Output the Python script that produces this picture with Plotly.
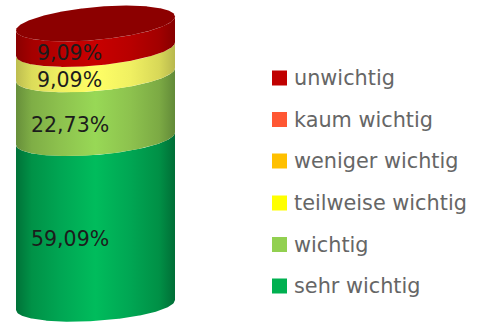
import numpy as np
import plotly.graph_objects as go

categories = ["unwichtig", "kaum wichtig", "weniger wichtig", "teilweise wichtig", "wichtig", "sehr wichtig"]
values = [9.09, 0, 0, 9.09, 22.73, 59.09]
labels = ["9,09%", "", "", "9,09%", "22,73%", "59,09%"]

legend_colors = ["#C00000", "#FF5733", "#FFC000", "#FFFF00", "#92D050", "#00B050"]
gradients = {
    "unwichtig": ["#8A0000", "#A40000", "#B80000", "#C80000", "#B80000", "#A20000", "#860000"],
    "teilweise wichtig": ["#BDBD50", "#DCDC5A", "#F0F062", "#FFFF66", "#F0F062", "#D8D858", "#B8B84E"],
    "wichtig": ["#678F3A", "#7FAE46", "#8DC24E", "#98D856", "#8DC24E", "#7CAA44", "#628A38"],
    "sehr wichtig": ["#007238", "#009247", "#00A653", "#00BC5C", "#00A653", "#009046", "#006E36"],
}
TOP_FACE = "#8C0000"

XL, XR = 16.0, 175.0
Y_TOP, Y_BOTTOM = 23.5, 305.0
S_TOP, S_BOTTOM = -7.0, -5.0
H_TOP, H_BOTTOM = 16.5, 16.0
U = np.linspace(-1, 1, 241)
X = (XL + XR) / 2 + U * (XR - XL) / 2


def level(pct):
    t = pct / 100.0
    yc = Y_BOTTOM + (Y_TOP - Y_BOTTOM) * t
    s = S_BOTTOM + (S_TOP - S_BOTTOM) * t
    h = H_BOTTOM + (H_TOP - H_BOTTOM) * t
    return yc, s, h


def arc(pct, sign=1):
    yc, s, h = level(pct)
    return yc + s * U + sign * h * np.sqrt(1 - U ** 2)


fig = go.Figure()
stops = [0, 0.1, 0.28, 0.5, 0.72, 0.9, 1]
cum = 0.0
for cat, val, lab in reversed(list(zip(categories, values, labels))):
    if val <= 0:
        continue
    lo, hi = arc(cum), arc(cum + val)
    xs = np.concatenate([X, X[::-1]])
    ys = np.concatenate([lo, hi[::-1]])
    fig.add_trace(go.Scatter(
        x=xs, y=ys, mode="lines", line=dict(width=0), fill="toself", name=cat,
        fillgradient=dict(type="horizontal", colorscale=list(zip(stops, gradients[cat]))),
        hoverinfo="skip", showlegend=False))
    cum += val

upper, lower = arc(cum, -1), arc(cum, 1)
fig.add_trace(go.Scatter(
    x=np.concatenate([X, X[::-1]]), y=np.concatenate([lower, upper[::-1]]),
    mode="lines", line=dict(width=0), fill="toself", fillcolor=TOP_FACE,
    hoverinfo="skip", showlegend=False))

# data labels
label_pos = {"unwichtig": (69.5, 53), "teilweise wichtig": (69.5, 80), "wichtig": (69.5, 125), "sehr wichtig": (69.5, 239)}
for cat, lab in zip(categories, labels):
    if lab:
        x, y = label_pos[cat]
        fig.add_annotation(x=x, y=y, text=lab, showarrow=False, xanchor="center", yanchor="middle",
                           font=dict(family="DejaVu Sans", size=20.5, color="#1c1c1c"))

# legend
leg_y = [78, 119.5, 161, 203, 244.5, 286]
fig.add_trace(go.Scatter(
    x=[279.5] * 6, y=leg_y, mode="markers",
    marker=dict(symbol="square", size=15, color=legend_colors, line=dict(width=0)),
    hoverinfo="skip", showlegend=False))
for cat, y in zip(categories, leg_y):
    fig.add_annotation(x=291.5, y=y, text=cat, showarrow=False, xanchor="left", yanchor="middle",
                       font=dict(family="DejaVu Sans", size=20.8, color="#666666"))

fig.update_layout(
    width=483, height=325, margin=dict(l=0, r=0, t=0, b=0),
    paper_bgcolor="white", plot_bgcolor="white", showlegend=False,
    xaxis=dict(range=[0, 483], visible=False, fixedrange=True),
    yaxis=dict(range=[325, 0], visible=False, fixedrange=True),
)
fig.write_html("out.html", config={"displayModeBar": False},
               post_script="document.body.style.margin='0';")
